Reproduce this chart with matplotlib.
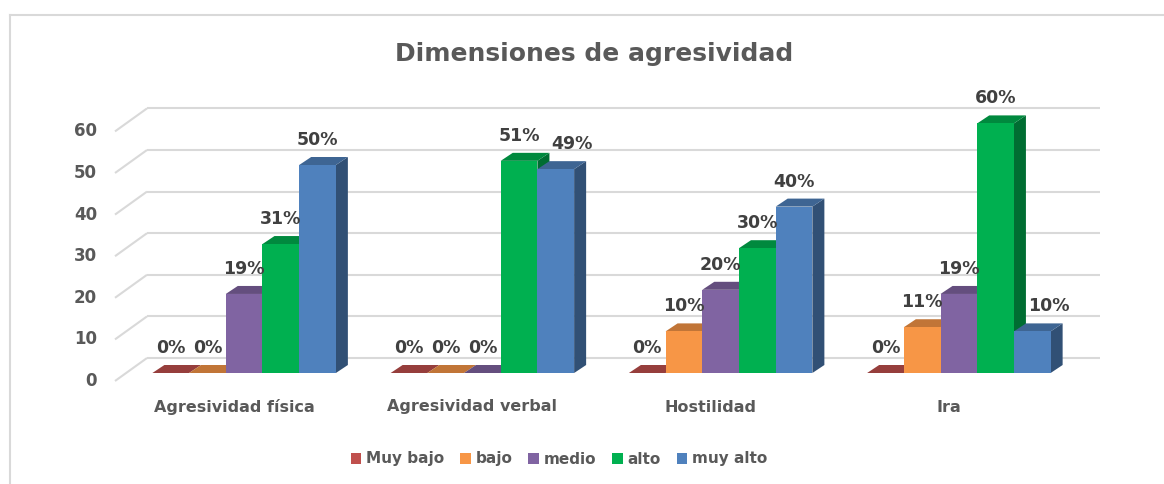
import numpy as np
import matplotlib
matplotlib.use('Agg')
import matplotlib.pyplot as plt
from matplotlib.patches import Polygon, Rectangle, Patch
from matplotlib.lines import Line2D
from matplotlib.colors import to_rgb

# Data
categories = ['Agresividad física', 'Agresividad verbal', 'Hostilidad', 'Ira']
series_names = ['Muy bajo', 'bajo', 'medio', 'alto', 'muy alto']
muy_bajo = [0, 0, 0, 0]
bajo = [0, 0, 10, 11]
medio = [19, 0, 20, 19]
alto = [31, 51, 30, 60]
muy_alto = [50, 49, 40, 10]
y_ticks = [0, 10, 20, 30, 40, 50, 60]

series = [muy_bajo, bajo, medio, alto, muy_alto]
colors = ['#C0504D', '#F79646', '#8064A2', '#00B050', '#4F81BD']

W, H = 1164, 484
# pixel geometry of the 3D box (floor front at pixel x0..x1, y=381)
PX0, PX1, PY0 = 115, 1068, 381
PX_PER_X = (PX1 - PX0) / 4.0
PX_PER_Y = 4.16

DX, DY = 32 / PX_PER_X, 23 / PX_PER_Y        # wall depth
BAR_W = 36.7 / PX_PER_X
BDX, BDY = 12 / PX_PER_X, 8 / PX_PER_Y      # bar depth
F0X, F0Y = 10 / PX_PER_X, 8 / PX_PER_Y      # bars sit inside the depth


def shade(c, f):
    r, g, b = to_rgb(c)
    return (r * f, g * f, b * f)


fig = plt.figure(figsize=(W / 100, H / 100), dpi=100)
ax = fig.add_axes([0, 0, 1, 1])
ax.set_xlim(-PX0 / PX_PER_X, (W - PX0) / PX_PER_X)
ax.set_ylim(-(H - PY0) / PX_PER_Y, PY0 / PX_PER_Y)
ax.axis('off')

grid_c = '#D9D9D9'
text_c = '#595959'
label_c = '#404040'

# back wall gridlines + diagonal side lines, tick labels
for v in y_ticks:
    ax.plot([0, DX], [v, v + DY], color=grid_c, lw=1.5, zorder=1, solid_capstyle='butt')
    ax.plot([DX, 4 + DX], [v + DY, v + DY], color=grid_c, lw=1.5, zorder=1, solid_capstyle='butt')
    ax.text(-18 / PX_PER_X, v, str(v), ha='right', va='center',
            fontsize=12, fontweight='bold', color=text_c)

# bars
z = 2
group_off = (1 - 5 * BAR_W) / 2 + F0X
for i, cat in enumerate(categories):
    for k, vals in enumerate(series):
        v = vals[i]
        x0 = i + group_off + k * BAR_W
        y0 = F0Y
        col = colors[k]
        side = Polygon([(x0 + BAR_W, y0), (x0 + BAR_W + BDX, y0 + BDY),
                        (x0 + BAR_W + BDX, y0 + v + BDY), (x0 + BAR_W, y0 + v)],
                       closed=True, facecolor=shade(col, 0.62), edgecolor='none', zorder=z)
        top = Polygon([(x0, y0 + v), (x0 + BAR_W, y0 + v),
                       (x0 + BAR_W + BDX, y0 + v + BDY), (x0 + BDX, y0 + v + BDY)],
                      closed=True, facecolor=shade(col, 0.78), edgecolor='none', zorder=z + 0.1)
        front = Rectangle((x0, y0), BAR_W, v, facecolor=col, edgecolor='none', zorder=z + 0.2)
        ax.add_patch(side)
        ax.add_patch(top)
        ax.add_patch(front)
        z += 1
        # label; nudged right when the left neighbour is taller
        lx = x0 + BAR_W / 2
        if k > 0 and series[k - 1][i] > v:
            lx += BAR_W * 0.45
        ax.text(lx, y0 + v + BDY + 1.9, f'{v}%', ha='center', va='bottom',
                fontsize=12.5, fontweight='bold', color=label_c, zorder=100)

    ax.text(i + 0.5, (PY0 - 407) / PX_PER_Y, cat, ha='center', va='center',
            fontsize=11.5, fontweight='bold', color=text_c)

# title
fig.text(594 / W, 1 - 54 / H, 'Dimensiones de agresividad', ha='center', va='center',
         fontsize=18, fontweight='bold', color=text_c)

# legend
handles = [Patch(facecolor=c, edgecolor='none') for c in colors]
fig.legend(handles, series_names, loc='center', bbox_to_anchor=(559 / W, 1 - 459 / H),
           ncol=5, frameon=False, handlelength=0.7, handleheight=0.7,
           handletextpad=0.3, columnspacing=1.05,
           prop={'size': 11, 'weight': 'bold'}, labelcolor=text_c)

# chart border (left and top edges visible)
fig.add_artist(Line2D([10 / W, 10 / W], [0, 1 - 15 / H], color=grid_c, lw=1.5))
fig.add_artist(Line2D([10 / W, 1], [1 - 15 / H, 1 - 15 / H], color=grid_c, lw=1.5))

fig.savefig('out.png', dpi=100, facecolor='white')
